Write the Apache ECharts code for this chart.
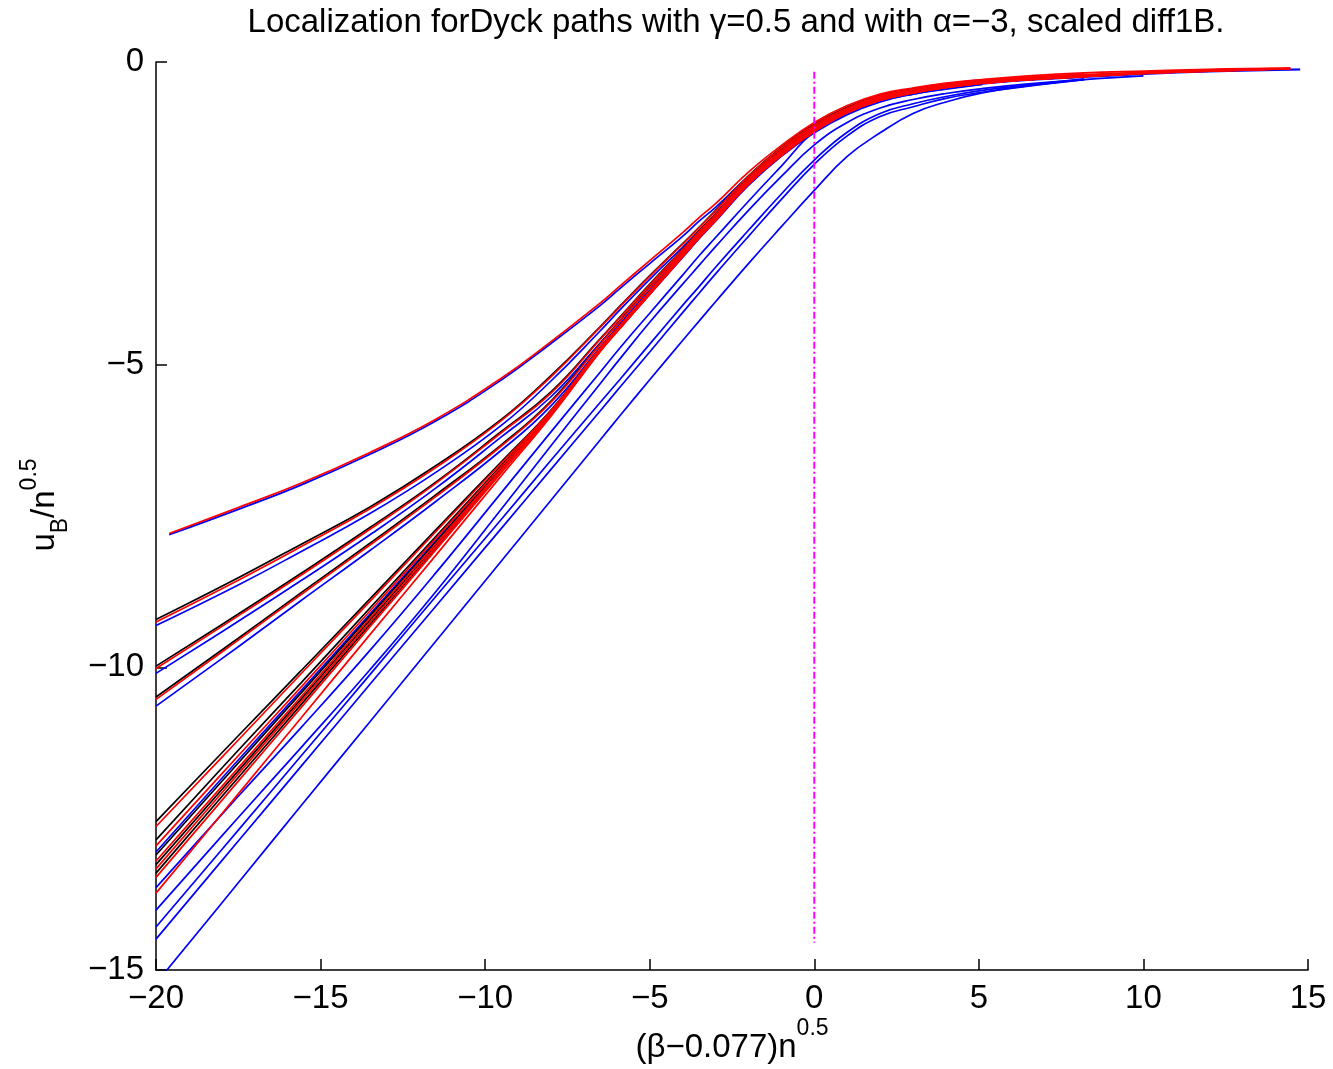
<!DOCTYPE html>
<html>
<head>
<meta charset="utf-8">
<script src="https://cdn.jsdelivr.net/npm/echarts@6/dist/echarts.min.js"></script>
<style>
  html, body { margin: 0; padding: 0; background: #fff; }
  #chart { width: 1333px; height: 1069px; }
</style>
</head>
<body>
<div id="chart"></div>
<script>
// x positions shared by every curve, (beta-0.077)*n^0.5
const N = null
const xGrid = [-20, -19.6, -17.5, -15.6, -13.5, -11.5, -9.5, -8, -6.5, -5.9, -5, -4, -3.5, -3, -2, -1, 0, 1, 2, 3, 4, 5.1, 6.5, 8.2, 10, 12, 14.46, 14.76]

const xTicks = [-20, -15, -10, -5, 0, 5, 10, 15]
const yTicks = [-15, -10, -5, 0]

// upper fan curves (red / black / blue companions)
const redA   = [N, -7.79, -7.36, -6.96, -6.45, -5.90, -5.22, -4.62, -3.98, -3.70, -3.28, -2.82, -2.57, -2.34, -1.82, -1.38, -1.00, -0.72, -0.53, -0.43, -0.35, -0.29, -0.23, -0.18, -0.15, -0.12, -0.10, N]
const blueA  = [N, -7.81, -7.39, -6.99, -6.48, -5.93, -5.25, -4.65, -4.02, -3.74, -3.33, -2.88, -2.63, -2.40, -1.89, -1.44, -1.06, -0.78, -0.58, -0.47, -0.39, -0.33, -0.27, -0.22, -0.18, -0.14, N, -0.12]

const redB   = [-9.25, N, -8.56, -8.01, -7.38, -6.70, -5.92, -5.20, -4.38, -4.04, -3.54, -3.01, -2.74, -2.46, -1.89, -1.42, -1.04, -0.76, -0.56, -0.45, -0.37, -0.31, -0.25, -0.20, N, N, N, N]
const blackB = [-9.21, N, -8.52, -7.97, -7.35, -6.67, -5.90, -5.18, -4.37, -4.03, -3.53, -3.00, -2.73, -2.45, -1.88, -1.41, -1.03, -0.75, -0.55, -0.44, -0.36, -0.30, N, N, N, N, N, N]
const blueB  = [-9.31, N, -8.64, -8.09, -7.46, -6.78, -6.00, -5.27, -4.44, -4.09, -3.59, -3.06, -2.79, -2.51, -1.94, -1.47, -1.09, -0.80, -0.60, -0.49, -0.41, -0.35, -0.29, -0.24, N, N, N, N]

const redC   = [-10.02, N, -9.15, -8.48, -7.72, -6.96, -6.12, -5.47, -4.58, -4.22, -3.68, -3.10, -2.80, -2.52, -1.93, -1.46, -1.07, -0.78, -0.58, -0.47, -0.39, -0.32, -0.26, -0.21, -0.17, -0.13, -0.105, N]
const blackC = [-9.98, N, -9.12, -8.45, -7.69, -6.94, -6.10, -5.45, -4.57, -4.21, -3.67, -3.09, -2.79, -2.51, -1.92, -1.45, -1.06, -0.77, -0.57, -0.46, N, N, N, N, N, N, N, N]
const blueC  = [-10.10, N, -9.24, -8.57, -7.81, -7.04, -6.19, -5.53, -4.64, -4.27, -3.73, -3.15, -2.85, -2.57, -1.98, -1.50, -1.11, -0.82, -0.62, -0.50, -0.42, -0.36, N, N, N, N, N, N]

const redD   = [-10.53, N, -9.55, -8.80, -7.98, -7.18, -6.34, -5.62, -4.66, -4.28, -3.73, -3.14, -2.83, -2.55, -1.96, -1.49, -1.10, -0.80, -0.60, -0.49, -0.40, -0.33, -0.27, -0.22, -0.18, -0.14, -0.11, N]
const blackD = [-10.49, N, -9.52, -8.77, -7.95, -7.15, -6.32, -5.60, -4.65, -4.27, -3.72, -3.13, -2.82, -2.54, -1.95, -1.48, -1.09, -0.79, -0.59, -0.48, -0.39, -0.32, N, N, N, N, N, N]
const blueD  = [-10.64, N, -9.66, -8.90, -8.07, -7.26, -6.41, -5.68, -4.71, -4.32, -3.77, -3.18, -2.87, -2.59, -2.00, -1.53, -1.14, -0.85, -0.64, -0.52, -0.43, -0.36, -0.30, -0.25, -0.20, -0.16, N, -0.125]

// steep bundle
const blackE1 = [-12.55, N, -11.13, -10.06, -8.87, -7.73, -6.60, -5.75, -4.72, -4.35, -3.79, -3.17, -2.86, -2.57, -1.98, -1.51, -1.12, -0.82, -0.62, -0.50, -0.41, -0.34, N, N, N, N, N, N]
const redE1   = [-12.63, N, -11.20, -10.11, -8.91, -7.76, -6.62, -5.76, -4.72, -4.35, -3.79, -3.17, -2.86, -2.57, -1.98, -1.51, -1.12, -0.82, -0.62, -0.50, -0.41, -0.34, -0.28, -0.23, -0.19, -0.15, -0.11, N]
const blackE2 = [-12.85, N, -11.37, -10.26, -9.02, -7.84, -6.66, -5.78, -4.74, -4.36, -3.80, -3.18, -2.87, -2.58, -1.99, -1.52, -1.13, -0.83, -0.62, -0.50, N, N, N, N, N, N, N, N]
const redE2   = [-12.95, N, -11.46, -10.33, -9.07, -7.87, -6.68, -5.78, -4.74, -4.37, -3.81, -3.19, -2.88, -2.59, -1.99, -1.52, -1.13, -0.83, -0.63, -0.51, -0.42, -0.35, -0.29, -0.23, N, N, N, N]
const blueE   = [-13.05, N, -11.53, -10.39, -9.12, -7.91, -6.70, -5.79, -4.76, -4.39, -3.84, -3.23, -2.92, -2.63, -2.04, -1.56, -1.17, -0.87, -0.66, -0.53, -0.44, -0.37, N, N, N, N, N, N]
const blackE3 = [-13.10, N, -11.58, -10.43, -9.15, -7.93, -6.71, -5.80, -4.75, -4.37, -3.81, -3.19, -2.88, -2.59, -2.00, -1.53, -1.13, -0.83, N, N, N, N, N, N, N, N, N, N]
const redE3   = [-13.20, N, -11.66, -10.49, -9.19, -7.96, -6.73, -5.81, -4.75, -4.38, -3.82, -3.20, -2.89, -2.60, -2.00, -1.53, -1.14, -0.83, -0.63, -0.51, -0.42, -0.35, -0.29, -0.24, -0.19, -0.15, -0.11, N]
const blackE4 = [-13.26, N, -11.71, -10.53, -9.22, -7.98, -6.74, -5.81, -4.76, -4.38, -3.82, -3.20, -2.89, -2.60, -2.00, -1.53, -1.14, N, N, N, N, N, N, N, N, N, N, N]
const redE4   = [-13.33, N, -11.76, -10.57, -9.26, -8.01, -6.75, -5.82, -4.76, -4.38, -3.82, -3.20, -2.89, -2.60, -2.00, -1.53, -1.14, -0.84, -0.63, -0.51, -0.42, -0.35, -0.29, N, N, N, N, N]
const blackE5 = [-13.40, N, -11.82, -10.62, -9.29, -8.03, -6.77, -5.82, -4.76, -4.39, -3.83, -3.21, -2.90, -2.61, -2.01, -1.54, -1.14, N, N, N, N, N, N, N, N, N, N, N]
const redE5   = [-13.47, N, -11.88, -10.67, -9.33, -8.06, -6.78, -5.83, -4.77, -4.39, -3.83, -3.21, -2.90, -2.61, -2.01, -1.54, -1.15, -0.84, -0.63, -0.51, -0.42, -0.35, -0.29, -0.24, -0.19, N, N, N]
const redE6   = [-13.73, N, -12.09, -10.84, -9.46, -8.15, -6.83, -5.85, -4.78, -4.40, -3.84, -3.22, -2.91, -2.62, -2.02, -1.55, -1.15, -0.84, -0.63, -0.51, -0.42, -0.35, -0.29, -0.24, -0.19, -0.15, -0.11, N]

// lower blue lines
const blueL1 = [-13.64, N, -12.13, -11.00, -9.72, -8.44, -7.11, -6.11, -5.12, -4.72, -4.15, -3.52, -3.20, -2.90, -2.30, -1.72, -1.15, -0.86, -0.65, -0.53, -0.45, -0.37, N, N, N, N, N, N]
const blueL2 = [-14.01, N, -12.48, -11.33, -10.04, -8.75, -7.38, -6.34, -5.31, -4.90, -4.30, -3.67, -3.36, -3.05, -2.45, -1.89, -1.37, -1.00, -0.76, -0.62, -0.52, -0.44, -0.36, -0.29, -0.23, N, N, N]
const blueL3 = [-14.29, N, -12.69, -11.47, -10.12, -8.83, -7.55, -6.58, -5.62, -5.24, -4.66, -4.02, -3.71, -3.39, -2.78, -2.18, -1.62, -1.16, -0.85, -0.69, -0.57, -0.47, -0.38, -0.28, N, N, N, N]
const blueL4 = [-14.49, N, -12.87, -11.64, -10.28, -8.99, -7.70, -6.73, -5.76, -5.37, -4.79, -4.14, -3.82, -3.50, -2.88, -2.27, -1.69, -1.22, -0.90, -0.74, -0.60, -0.50, -0.40, -0.29, N, N, N, N]
const blueL5 = [-15.22, N, -13.56, -12.29, -10.90, -9.57, -8.24, -7.24, -6.24, -5.84, -5.25, -4.60, -4.28, -3.96, -3.33, -2.72, -2.12, -1.56, -1.17, -0.85, -0.66, -0.51, -0.39, -0.29, N, N, N, N]

// dotted guide at x = 0
const guideX = [0, 0]
const guideY = [-0.16, -14.55]

const blueLines = [blueL1, blueL2, blueL3, blueL4, blueL5, blueA, blueB, blueC, blueD, blueE]
const blackLines = [blackB, blackC, blackD, blackE1, blackE2, blackE3, blackE4, blackE5]
const redLines = [redA, redB, redC, redD, redE1, redE2, redE3, redE4, redE5, redE6]

const FONT = '"Liberation Sans", Arial, Helvetica, sans-serif'

function pairs(ys) {
  return xGrid.map((x, i) => [x, ys[i]]).filter(p => p[1] !== null)
}
function curve(ys, color) {
  return {
    type: 'line',
    data: pairs(ys),
    symbol: 'none',
    silent: true,
    clip: true,
    smooth: 0.45,
    lineStyle: { color: color, width: 1.7 }
  }
}
function minus(v) {
  return v < 0 ? '\u2212' + Math.abs(v) : String(v)
}

const series = []
blueLines.forEach(ys => series.push(curve(ys, '#0000ff')))
blackLines.forEach(ys => series.push(curve(ys, '#000000')))
redLines.forEach(ys => series.push(curve(ys, '#ff0000')))
series.push({
  type: 'line',
  data: guideX.map((x, i) => [x, guideY[i]]),
  symbol: 'none',
  silent: true,
  lineStyle: { color: '#ff00ff', width: 2, type: [7, 3, 2, 3] }
})

const chart = echarts.init(document.getElementById('chart'))
chart.setOption({
  animation: false,
  backgroundColor: '#fff',
  grid: { left: 156, right: 25, top: 62, bottom: 99 },
  xAxis: {
    type: 'value',
    min: xTicks[0],
    max: xTicks[xTicks.length - 1],
    interval: xTicks[1] - xTicks[0],
    axisLine: { onZero: false, lineStyle: { color: '#000', width: 1.5 } },
    axisTick: { inside: true, length: 11, lineStyle: { color: '#000', width: 1.5 } },
    splitLine: { show: false },
    axisLabel: { color: '#000', fontSize: 33, fontFamily: FONT, margin: 12, formatter: minus }
  },
  yAxis: {
    type: 'value',
    min: yTicks[0],
    max: yTicks[yTicks.length - 1],
    interval: yTicks[1] - yTicks[0],
    axisLine: { onZero: false, lineStyle: { color: '#000', width: 1.5 } },
    axisTick: { inside: true, length: 11, lineStyle: { color: '#000', width: 1.5 } },
    splitLine: { show: false },
    axisLabel: { color: '#000', fontSize: 33, fontFamily: FONT, margin: 12, formatter: minus }
  },
  graphic: [
    {
      type: 'text', x: 736, y: 23, silent: true,
      style: {
        text: 'Localization forDyck paths with \u03b3=0.5 and with \u03b1=\u22123, scaled diff1B.',
        font: '33px ' + FONT, fill: '#000', align: 'center', verticalAlign: 'middle'
      }
    },
    {
      type: 'text', x: 732, y: 1048, silent: true,
      style: {
        text: '(\u03b2\u22120.077)n{sup|0.5}',
        font: '33px ' + FONT, fill: '#000', align: 'center', verticalAlign: 'middle',
        lineHeight: 62,
        rich: { sup: { fontSize: 23, fontFamily: FONT, lineHeight: 23, verticalAlign: 'top', fill: '#000' } }
      }
    },
    {
      type: 'text', x: 45, y: 505, rotation: Math.PI / 2, silent: true,
      style: {
        text: 'u{sub|B}/n{sup|0.5}',
        font: '33px ' + FONT, fill: '#000', align: 'center', verticalAlign: 'middle',
        lineHeight: 54,
        rich: {
          sub: { fontSize: 23, fontFamily: FONT, lineHeight: 23, verticalAlign: 'bottom', fill: '#000' },
          sup: { fontSize: 23, fontFamily: FONT, lineHeight: 23, verticalAlign: 'top', fill: '#000' }
        }
      }
    }
  ],
  series: series
})
</script>
</body>
</html>
